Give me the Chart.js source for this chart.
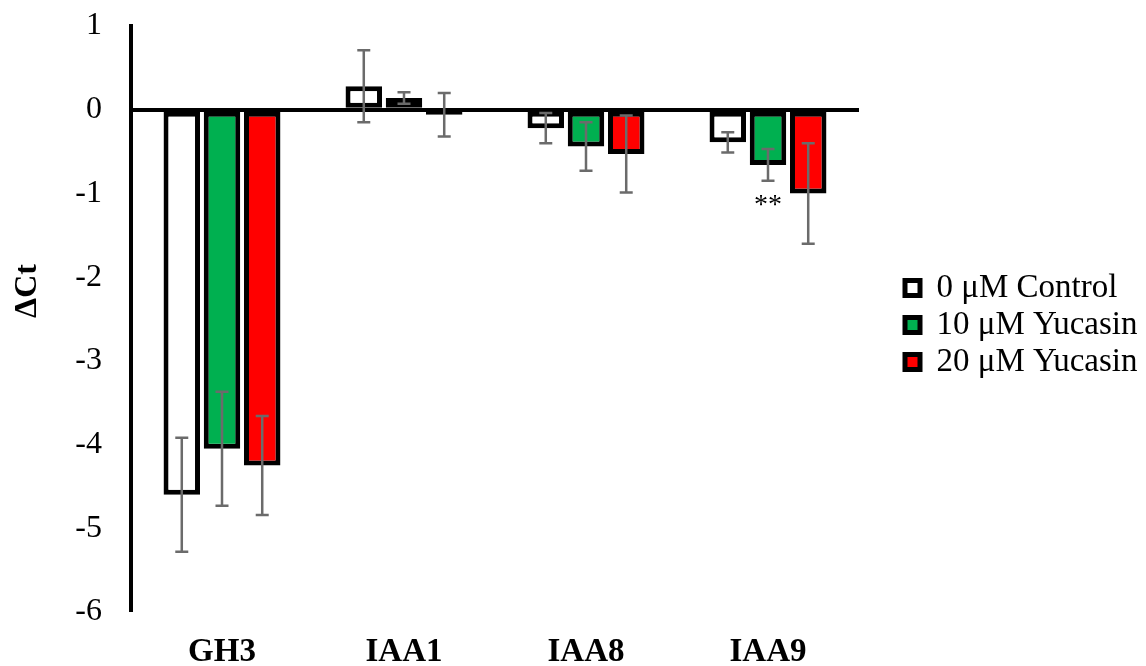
<!DOCTYPE html>
<html>
<head>
<meta charset="utf-8">
<script src="https://cdn.jsdelivr.net/npm/chart.js@4/dist/chart.umd.min.js"></script>
<style>
  body { margin: 0; background: #fff; }
  #wrap { width: 1146px; height: 666px; }
</style>
</head>
<body>
<div id="wrap"><canvas id="myBarChart" width="1146" height="666"></canvas></div>
<script>
const genes = ['GH3', 'IAA1', 'IAA8', 'IAA9'];
const seriesNames = ['0 \u03bcM Control', '10 \u03bcM Yucasin', '20 \u03bcM Yucasin'];
const control = [-4.60, 0.28, -0.22, -0.39];
const yuc10 = [-4.05, 0.14, -0.44, -0.66];
const yuc20 = [-4.25, -0.06, -0.53, -1.00];
const controlErr = [0.68, 0.43, 0.18, 0.12];
const yuc10Err = [0.68, 0.07, 0.29, 0.19];
const yuc20Err = [0.59, 0.26, 0.46, 0.60];
const yuc10Sig = ['', '', '', '**'];
const yTicks = [1, 0, -1, -2, -3, -4, -5, -6];

const serif = "'Liberation Serif', 'Times New Roman', serif";

// error bars + significance stars
const errorBars = {
  id: 'errorBars',
  afterDatasetsDraw(chart) {
    const ctx = chart.ctx;
    const y = chart.scales.y;
    chart.data.datasets.forEach((ds, i) => {
      const meta = chart.getDatasetMeta(i);
      meta.data.forEach((bar, j) => {
        const v = ds.data[j], e = ds.errors[j];
        const top = y.getPixelForValue(v + e);
        const bot = y.getPixelForValue(v - e);
        ctx.save();
        ctx.strokeStyle = '#6b6b6b';
        ctx.lineWidth = 2.5;
        ctx.beginPath();
        ctx.moveTo(bar.x, top); ctx.lineTo(bar.x, bot);
        ctx.moveTo(bar.x - 6.5, top); ctx.lineTo(bar.x + 6.5, top);
        ctx.moveTo(bar.x - 6.5, bot); ctx.lineTo(bar.x + 6.5, bot);
        ctx.stroke();
        if (ds.sig && ds.sig[j]) {
          ctx.fillStyle = '#000';
          ctx.font = '28px ' + serif;
          ctx.textAlign = 'center';
          ctx.textBaseline = 'middle';
          ctx.fillText(ds.sig[j], bar.x, bot + 25);
        }
        ctx.restore();
      });
    });
  }
};

// legend sits a bit away from the plot, like the Excel original
const legendSpot = {
  id: 'legendSpot',
  beforeLayout(chart) {
    const lg = chart.legend;
    if (lg && !lg._patched) {
      const fit = lg.fit.bind(lg);
      lg.fit = function () { fit(); this.width = 287; };
      lg._patched = true;
    }
  },
  afterLayout(chart) {
    const lg = chart.legend;
    lg.left = 901;
    lg.top -= 21;
    lg.bottom -= 21;
  }
};

new Chart(document.getElementById('myBarChart').getContext('2d'), {
  type: 'bar',
  data: {
    labels: genes,
    datasets: [
      { label: seriesNames[0], data: control, errors: controlErr, backgroundColor: '#ffffff' },
      { label: seriesNames[1], data: yuc10, errors: yuc10Err, sig: yuc10Sig, backgroundColor: '#00b050' },
      { label: seriesNames[2], data: yuc20, errors: yuc20Err, backgroundColor: '#ff0000' }
    ].map(d => Object.assign(d, {
      borderColor: '#000',
      borderWidth: 5,
      borderSkipped: false,
      categoryPercentage: 0.663,
      barPercentage: 0.907
    }))
  },
  options: {
    responsive: false,
    animation: false,
    layout: { padding: { top: 26, right: 0, bottom: 0, left: 0 } },
    scales: {
      x: {
        afterFit(scale) { scale.height = 54; },
        grid: { display: false },
        border: { display: false },
        ticks: { color: '#000', padding: 16, font: { family: serif, size: 33, weight: 'bold', lineHeight: 1 } }
      },
      y: {
        min: -6,
        max: 1,
        afterFit(scale) { scale.width = 131; },
        afterBuildTicks(scale) { scale.ticks = yTicks.map(v => ({ value: v })); },
        border: { display: true, color: '#000', width: 4 },
        grid: {
          drawTicks: true,
          tickLength: 29,
          tickColor: 'transparent',
          color: c => (c.tick && c.tick.value === 0 ? '#000' : 'transparent'),
          lineWidth: c => (c.tick && c.tick.value === 0 ? 4 : 0)
        },
        ticks: { color: '#000', padding: 0, font: { family: serif, size: 32, lineHeight: 1 } },
        title: {
          display: true,
          text: '       \u0394Ct',
          color: '#000',
          padding: { top: 9, bottom: 0 },
          font: { family: serif, size: 32, weight: 'bold', lineHeight: 1.2 }
        }
      }
    },
    plugins: {
      legend: {
        position: 'right',
        labels: {
          color: '#000',
          boxWidth: 15,
          boxHeight: 15,
          padding: 4,
          font: { family: serif, size: 33 }
        }
      },
      tooltip: { enabled: false }
    }
  },
  plugins: [errorBars, legendSpot]
});
</script>
</body>
</html>
